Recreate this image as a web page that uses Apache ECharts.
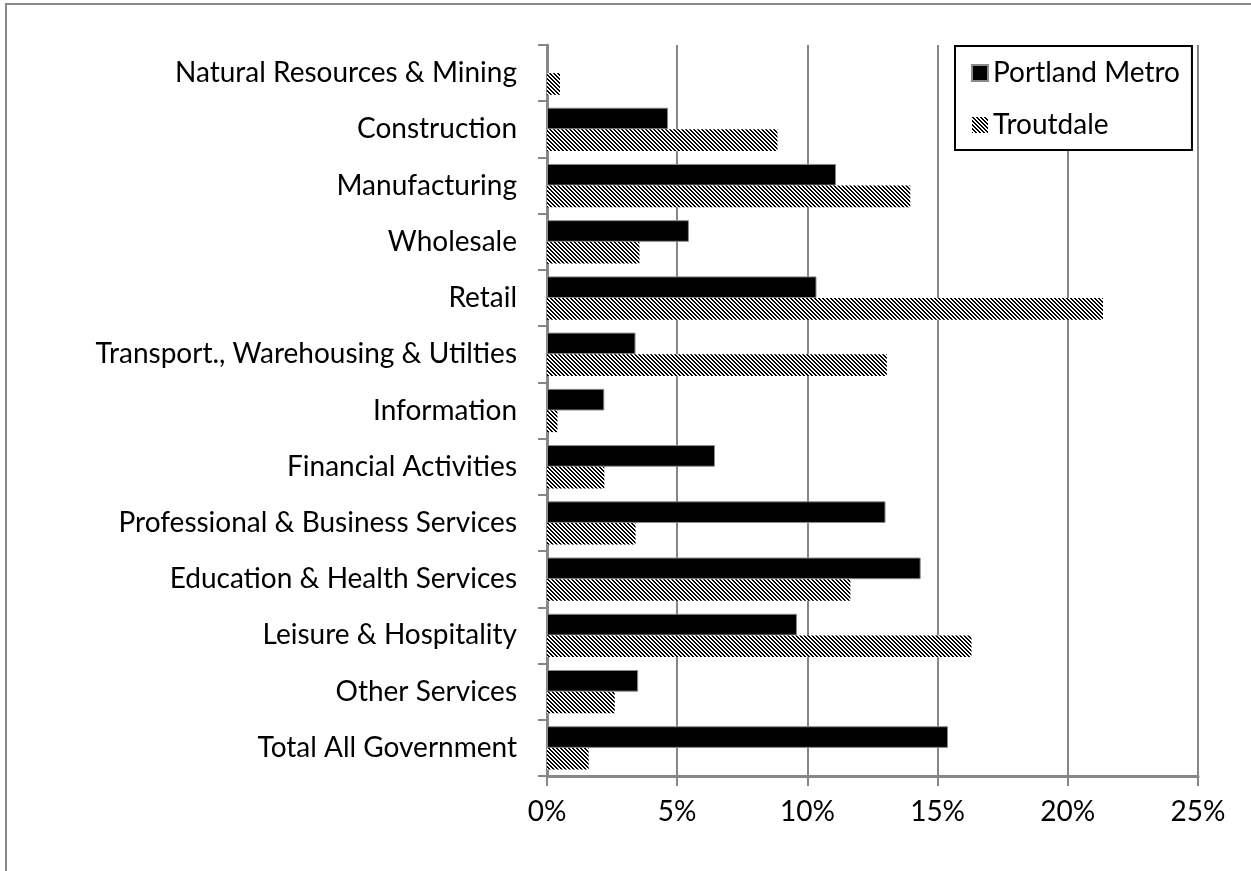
<!DOCTYPE html>
<html>
<head>
<meta charset="utf-8">
<script src="https://cdn.jsdelivr.net/npm/echarts@6/dist/echarts.min.js"></script>
<style>
  html, body { margin: 0; padding: 0; background: #fff; }
  #chart { width: 1251px; height: 871px; }
</style>
</head>
<body>
<div id="chart"></div>
<script>
// industries, top to bottom
const categories = [
  'Natural Resources & Mining',
  'Construction',
  'Manufacturing',
  'Wholesale',
  'Retail',
  'Transport., Warehousing & Utilties',
  'Information',
  'Financial Activities',
  'Professional & Business Services',
  'Education & Health Services',
  'Leisure & Hospitality',
  'Other Services',
  'Total All Government'
];
// share of employment, %
const portlandMetro = [0.05, 4.65, 11.1, 5.45, 10.35, 3.4, 2.2, 6.45, 13.0, 14.35, 9.6, 3.5, 15.4];
const troutdale = [0.5, 8.85, 13.95, 3.55, 21.35, 13.05, 0.4, 2.2, 3.4, 11.65, 16.3, 2.6, 1.6];
const xTicks = [0, 5, 10, 15, 20, 25];

// diagonal hatch fill like the office chart
function hatch() {
  const c = document.createElement('canvas');
  c.width = 4; c.height = 4;
  const ctx = c.getContext('2d');
  ctx.fillStyle = '#fff';
  ctx.fillRect(0, 0, 4, 4);
  ctx.fillStyle = '#000';
  for (let y = 0; y < 4; y++) {
    for (let x = 0; x < 4; x++) {
      if ((x - y + 8) % 4 < 2) ctx.fillRect(x, y, 1, 1);
    }
  }
  return c;
}

const font = 'Lato';
const gray = '#878787';
const fs = 28;

let myChart = echarts.init(document.getElementById('chart'));
myChart.setOption({
  animation: false,
  textStyle: { fontFamily: font },
  graphic: [{
    type: 'rect',
    shape: { x: 6, y: 4, width: 1400, height: 1000 },
    style: { fill: 'none', stroke: gray, lineWidth: 2 },
    silent: true
  }],
  legend: {
    orient: 'vertical',
    left: 955,
    top: 46,
    padding: [12, 12, 10, 16],
    itemGap: 22,
    itemWidth: 16,
    itemHeight: 16,
    icon: 'rect',
    backgroundColor: '#fff',
    borderColor: '#000',
    borderWidth: 2,
    textStyle: { fontSize: fs, color: '#000', fontFamily: font, lineHeight: 30, padding: [0, 0, 0, 0] },
    data: ['Portland Metro', 'Troutdale']
  },
  grid: { left: 547, right: 53, top: 45, bottom: 95, containLabel: false },
  xAxis: {
    type: 'value',
    min: 0,
    max: 25,
    interval: 5,
    axisLine: { show: true, lineStyle: { color: gray, width: 3 } },
    axisTick: { show: true, length: 10, lineStyle: { color: gray, width: 2 } },
    splitLine: { show: true, lineStyle: { color: gray, width: 2 } },
    axisLabel: {
      margin: 22,
      fontSize: fs,
      color: '#000',
      fontFamily: font,
      formatter: v => (xTicks.indexOf(v) >= 0 ? v + '%' : '')
    }
  },
  yAxis: {
    type: 'category',
    inverse: true,
    data: categories,
    axisLine: { show: true, lineStyle: { color: gray, width: 3 } },
    axisTick: { show: true, length: 9, lineStyle: { color: gray, width: 2 } },
    axisLabel: { margin: 30, fontSize: fs, color: '#000', fontFamily: font }
  },
  series: [
    {
      name: 'Portland Metro',
      type: 'bar',
      data: portlandMetro,
      barGap: '0%',
      barCategoryGap: '23%',
      itemStyle: { color: '#000', borderColor: '#8a8a8a', borderWidth: 1 }
    },
    {
      name: 'Troutdale',
      type: 'bar',
      data: troutdale,
      barGap: '0%',
      barCategoryGap: '23%',
      itemStyle: { color: { image: hatch(), repeat: 'repeat' } }
    }
  ]
});
</script>
</body>
</html>
